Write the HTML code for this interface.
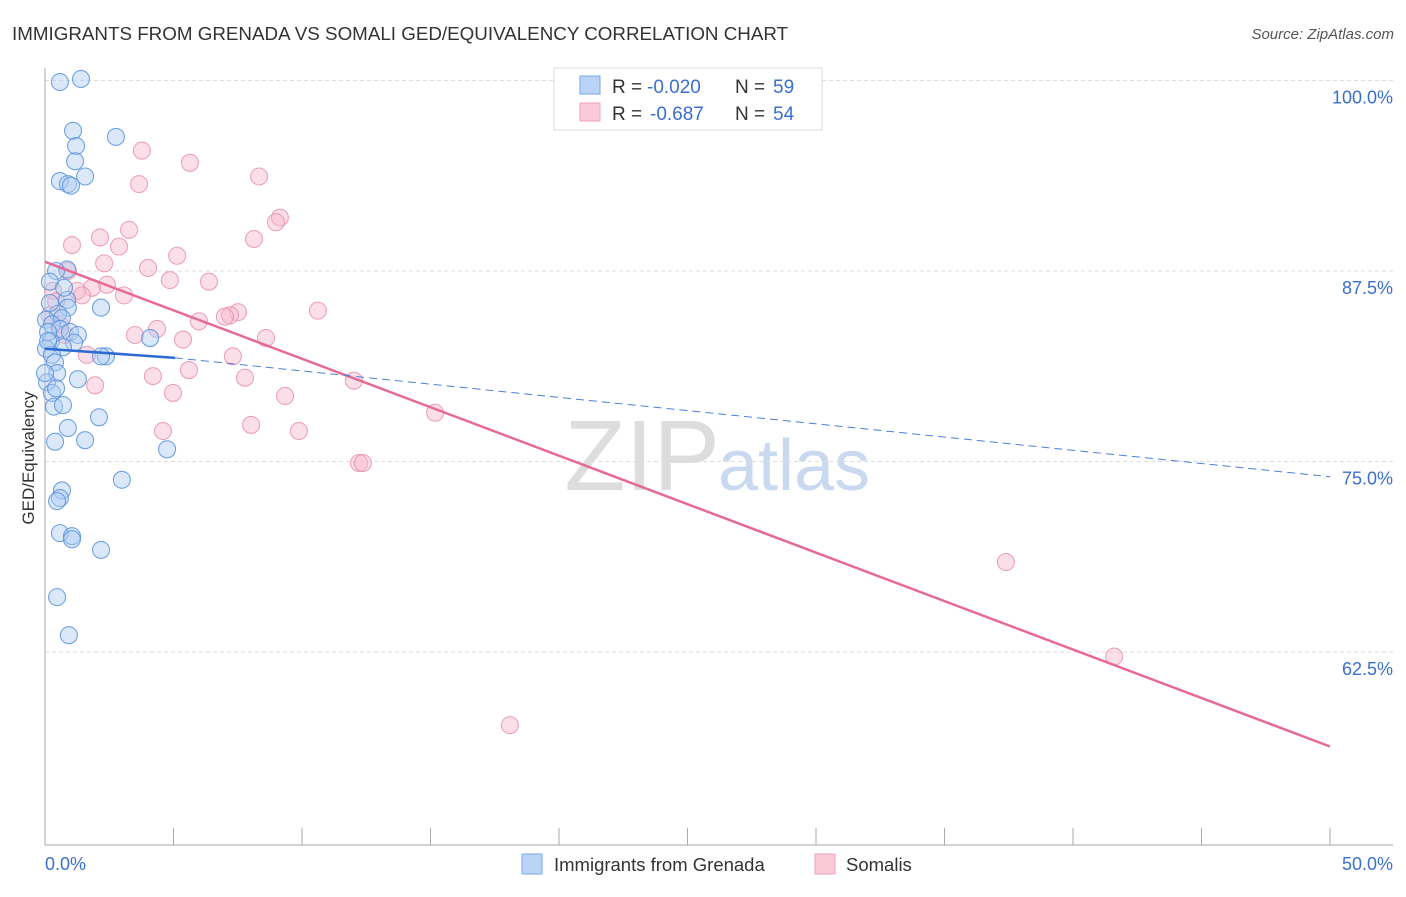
<!DOCTYPE html>
<html><head><meta charset="utf-8"><style>
body{margin:0;background:#fff;font-family:"Liberation Sans",sans-serif}
svg text{font-family:"Liberation Sans",sans-serif}
</style></head><body>
<svg id="c" width="1406" height="892">
<text x="12" y="40" font-size="18.8" fill="#333">IMMIGRANTS FROM GRENADA VS SOMALI GED/EQUIVALENCY CORRELATION CHART</text>
<text x="1394" y="39" font-size="15" fill="#555" font-style="italic" text-anchor="end">Source: ZipAtlas.com</text>
<text x="720" y="490" font-size="100" fill="#ddd" text-anchor="end" font-family="Liberation Serif">ZIP</text>
<text x="718" y="490" font-size="72" fill="#c9d9f0">atlas</text>
<g id="grid"></g><g id="pts"></g><g id="lines"></g>
<text transform="translate(34,458) rotate(-90)" font-size="17" fill="#333" text-anchor="middle">GED/Equivalency</text>
<text x="45" y="870" font-size="18" fill="#3a6fd0">0.0%</text>
<text x="1393" y="870" font-size="18" fill="#3a6fd0" text-anchor="end">50.0%</text>
<g>
<rect x="554" y="68" width="268" height="62" fill="#fff" stroke="#ddd"/>
<rect x="580" y="76" width="20" height="18" fill="#b9d3f7" stroke="#7aa6e6"/>
<rect x="580" y="103" width="20" height="18" fill="#fbcad8" stroke="#eea2b8"/>
<text x="612" y="93" font-size="19" fill="#333">R =</text>
<text x="647" y="93" font-size="19" fill="#3a6fd0">-0.020</text>
<text x="735" y="93" font-size="19" fill="#333">N =</text>
<text x="773" y="93" font-size="19" fill="#3a6fd0">59</text>
<text x="612" y="120" font-size="19" fill="#333">R =</text>
<text x="650" y="120" font-size="19" fill="#3a6fd0">-0.687</text>
<text x="735" y="120" font-size="19" fill="#333">N =</text>
<text x="773" y="120" font-size="19" fill="#3a6fd0">54</text>
</g>
<g>
<rect x="522" y="854" width="20" height="20" fill="#b9d3f7" stroke="#7aa6e6"/>
<text x="554" y="871" font-size="18.5" fill="#333">Immigrants from Grenada</text>
<rect x="815" y="854" width="20" height="20" fill="#fbcad8" stroke="#eea2b8"/>
<text x="846" y="871" font-size="18.5" fill="#333">Somalis</text>
</g>
</svg>
<script>
const yTicks=[100,87.5,75,62.5];
const xTickCount=10;
const blueX=[0.58,1.4,1.09,2.76,1.21,1.17,1.56,0.58,0.89,1.01,0.86,0.43,0.19,0.86,0.89,2.18,0.51,0.04,0.66,0.27,0.58,0.97,1.28,0.23,1.13,0.70,0.04,2.37,2.18,4.09,0.27,0.39,0.47,1.28,0.08,0.27,0.35,0.70,2.10,0.89,0.39,1.56,4.75,2.99,0.66,0.58,0.47,0.58,1.05,1.05,2.18,0.47,0.93,0.12,0.19,0.0,0.43,0.12,0.74];
const blueY=[99.9,100.1,96.7,96.3,95.7,94.7,93.7,93.4,93.2,93.1,87.6,87.5,86.8,85.6,85.1,85.1,84.7,84.3,84.4,84.0,83.7,83.5,83.3,82.9,82.8,82.5,82.4,81.9,81.9,83.1,82.0,81.5,80.8,80.4,80.2,79.5,78.6,78.7,77.9,77.2,76.3,76.4,75.8,73.8,73.1,72.6,72.4,70.3,70.1,69.9,69.2,66.1,63.6,83.5,85.4,80.8,79.8,82.9,86.4];
const pinkX=[3.77,5.64,8.33,3.66,9.14,8.99,3.27,2.14,1.05,8.13,2.88,5.14,2.30,4.01,0.89,4.86,6.38,2.41,1.83,1.25,1.44,3.07,0.31,0.43,10.62,7.51,7.2,7.0,5.99,4.36,3.50,5.37,8.6,7.31,1.63,5.60,4.20,7.78,12.02,1.95,4.98,9.34,15.18,8.02,4.59,9.88,12.22,12.37,37.39,41.6,18.09,0.58,0.19,0.78];
const pinkY=[95.4,94.6,93.7,93.2,91.0,90.7,90.2,89.7,89.2,89.6,89.1,88.5,88.0,87.7,87.5,86.9,86.8,86.6,86.4,86.2,85.9,85.9,86.2,85.5,84.9,84.8,84.6,84.5,84.2,83.7,83.3,83.0,83.1,81.9,82.0,81.0,80.6,80.5,80.3,80.0,79.5,79.3,78.2,77.4,77.0,77.0,74.9,74.9,68.4,62.2,57.7,84.0,84.6,83.3];
const blueTrend=[[0,82.4],[5.06,81.8],[50,74.0]];
const pinkTrend=[[0,88.1],[50,56.3]];
const X=v=>45+v/50*1285, Y=v=>80.5+(100-v)/12.5*190.5;
const NS="http://www.w3.org/2000/svg";
function mk(t,a,p){const e=document.createElementNS(NS,t);for(const k in a)e.setAttribute(k,a[k]);p.appendChild(e);return e;}
const g=document.getElementById('grid');
yTicks.forEach(v=>{
 const l=mk('line',{x1:45,x2:1393,y1:Y(v),y2:Y(v),stroke:'#ddd','stroke-dasharray':'4,3'},g);
 
 
 const t=mk('text',{x:1393,y:Y(v)+23,'font-size':18,fill:'#3a6fd0','text-anchor':'end'},g);
 t.textContent=v.toFixed(1)+'%';
 
 
});
const ax=mk('line',{x1:45,x2:45,y1:68,y2:845,stroke:'#aaa'},g);


const bx=mk('line',{x1:45,x2:1393,y1:845,y2:845,stroke:'#aaa'},g);


for(let i=0;i<=xTickCount;i++){const t=mk('line',{x1:X(i*5),x2:X(i*5),y1:828,y2:845,stroke:'#aaa'},g);
 
 }
const p=document.getElementById('pts');
function dots(xs,ys,f,s,n){xs.forEach((x,i)=>{const c=mk('circle',{cx:X(x),cy:Y(ys[i]),r:8.5,fill:f,'fill-opacity':0.45,stroke:s,'stroke-width':1.1,'stroke-opacity':0.85},p);
 
 });}
dots(pinkX,pinkY,'#f7b8cb','#e994ae','somali-point');
dots(blueX,blueY,'#aecbf2','#5b93de','grenada-point');
const L=document.getElementById('lines');
const pl=mk('line',{x1:X(pinkTrend[0][0]),y1:Y(pinkTrend[0][1]),x2:X(pinkTrend[1][0]),y2:Y(pinkTrend[1][1]),stroke:'#e66a95','stroke-width':2.5},L);


const b1=mk('line',{x1:X(blueTrend[0][0]),y1:Y(blueTrend[0][1]),x2:X(blueTrend[1][0]),y2:Y(blueTrend[1][1]),stroke:'#2d6ad1','stroke-width':2.5},L);


const b2=mk('line',{x1:X(blueTrend[1][0]),y1:Y(blueTrend[1][1]),x2:X(blueTrend[2][0]),y2:Y(blueTrend[2][1]),stroke:'#4a80d8','stroke-width':1,'stroke-dasharray':'8,5'},L);


</script>
</body></html>
